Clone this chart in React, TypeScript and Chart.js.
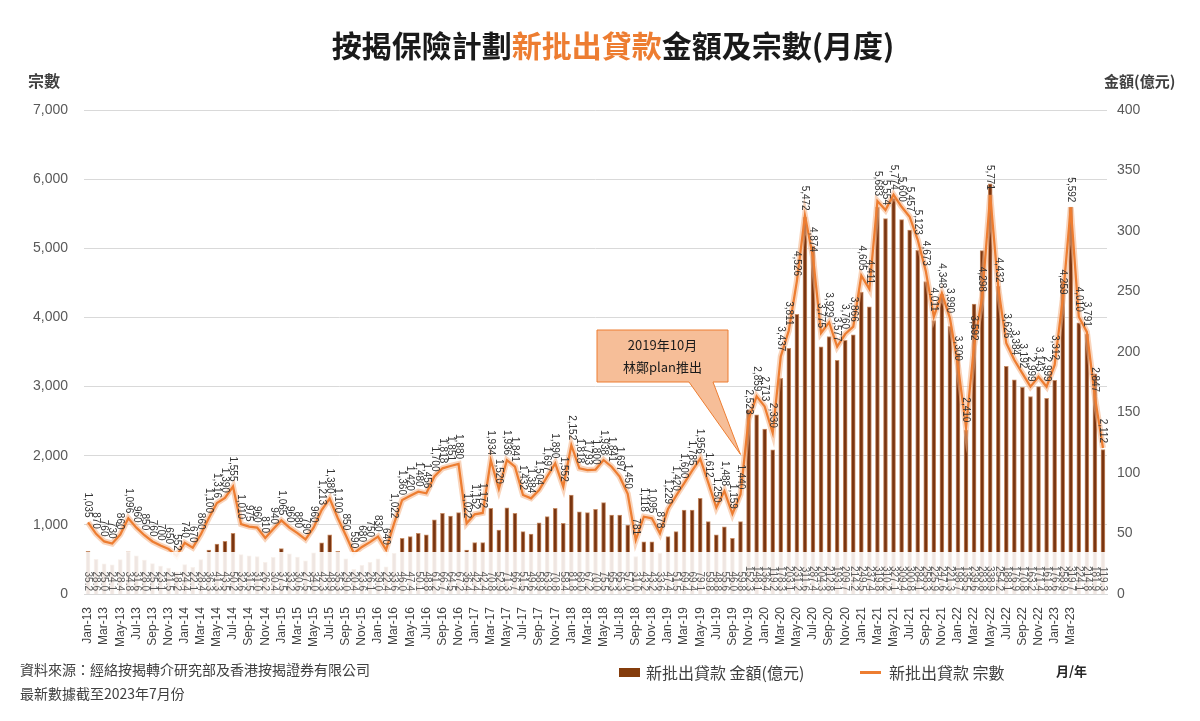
import { useEffect, useRef } from "react";
import { Chart, registerables } from "chart.js";

Chart.register(...registerables);

// Month categories (Jan-13 … Jul-23)
const MONTH_NAMES = ["Jan", "Feb", "Mar", "Apr", "May", "Jun", "Jul", "Aug", "Sep", "Oct", "Nov", "Dec"];
const YEARS = ["13", "14", "15", "16", "17", "18", "19", "20", "21", "22", "23"];

// 新批出貸款 宗數 (monthly count of newly approved loans)
const COUNT_2013 = [1035, 870, 760, 730, 860, 1096, 960, 850, 760, 700, 650, 552];
const COUNT_2014 = [740, 670, 860, 1100, 1316, 1390, 1555, 1010, 975, 960, 810, 940];
const COUNT_2015 = [1065, 960, 880, 790, 960, 1213, 1380, 1100, 850, 590, 680, 750];
const COUNT_2016 = [830, 640, 1022, 1360, 1420, 1480, 1456, 1700, 1818, 1851, 1880, 1022];
const COUNT_2017 = [1152, 1172, 1934, 1520, 1936, 1841, 1432, 1384, 1504, 1697, 1890, 1552];
const COUNT_2018 = [2152, 1818, 1793, 1800, 1938, 1841, 1697, 1450, 781, 1118, 1095, 878];
const COUNT_2019 = [1229, 1420, 1600, 1785, 1956, 1612, 1250, 1488, 1159, 1440, 2523, 2859];
const COUNT_2020 = [2713, 2330, 3437, 3811, 4526, 5472, 4874, 3775, 3929, 3577, 3760, 3866];
const COUNT_2021 = [4605, 4411, 5683, 5554, 5774, 5600, 5457, 5123, 4673, 4011, 4348, 3990];
const COUNT_2022 = [3300, 2410, 3592, 4298, 5771, 4432, 3626, 3384, 3192, 2999, 3143, 2999];
const COUNT_2023 = [3312, 4259, 5592, 4010, 3791, 2847, 2112];

// 新批出貸款 金額 (億元)
const AMOUNT_2013 = [35.2, 28.6, 25.0, 24.1, 28.4, 34.8, 31.6, 28.0, 25.1, 23.1, 21.5, 18.2];
const AMOUNT_2014 = [24.4, 22.1, 28.4, 36.3, 41.3, 43.5, 50.2, 32.6, 31.5, 31.0, 26.2, 30.4];
const AMOUNT_2015 = [37.5, 33.2, 30.6, 27.5, 34.0, 42.3, 48.9, 35.3, 29.0, 20.4, 23.6, 26.1];
const AMOUNT_2016 = [29.0, 22.4, 33.6, 46.0, 47.4, 50.1, 48.8, 61.2, 66.7, 64.5, 67.2, 36.4];
const AMOUNT_2017 = [42.4, 42.4, 70.8, 52.9, 71.3, 66.7, 51.5, 49.6, 58.9, 63.9, 70.8, 58.4];
const AMOUNT_2018 = [81.8, 68.0, 67.2, 70.0, 75.5, 65.3, 65.3, 57.0, 31.0, 43.2, 43.2, 33.6];
const AMOUNT_2019 = [47.4, 51.5, 69.4, 69.4, 79.1, 59.8, 48.8, 55.6, 46.0, 59.8, 152.3, 148.1];
const AMOUNT_2020 = [136.4, 119.2, 178.3, 203.1, 231.2, 311.6, 287.4, 204.3, 212.8, 193.1, 209.7, 214.2];
const AMOUNT_2021 = [249.5, 237.4, 319.8, 310.2, 327.1, 309.4, 300.8, 284.1, 258.3, 225.9, 247.6, 221.3];
const AMOUNT_2022 = [198.7, 135.5, 239.6, 283.8, 338.9, 254.2, 188.1, 176.9, 170.8, 163.2, 171.4, 161.8];
const AMOUNT_2023 = [176.6, 258.9, 319.7, 224.1, 214.8, 181.9, 119.3];

const COUNTS = [
  ...COUNT_2013, ...COUNT_2014, ...COUNT_2015, ...COUNT_2016, ...COUNT_2017, ...COUNT_2018,
  ...COUNT_2019, ...COUNT_2020, ...COUNT_2021, ...COUNT_2022, ...COUNT_2023,
];
const AMOUNTS = [
  ...AMOUNT_2013, ...AMOUNT_2014, ...AMOUNT_2015, ...AMOUNT_2016, ...AMOUNT_2017, ...AMOUNT_2018,
  ...AMOUNT_2019, ...AMOUNT_2020, ...AMOUNT_2021, ...AMOUNT_2022, ...AMOUNT_2023,
];
const MONTH_LABELS = YEARS.flatMap((y) => MONTH_NAMES.map((m) => `${m}-${y}`)).slice(0, COUNTS.length);

// Axis ranges
const COUNT_MAX = 7000;
const COUNT_STEP = 1000;
const AMOUNT_MAX = 400;
const AMOUNT_STEP = 50;
const LAST_TICK_LABEL = "Mar-23";

// Callout
const CALLOUT_MONTH = "Oct-19";
const CALLOUT_LINES = ["2019年10月", "林鄭plan推出"];

const CJK = '"Noto Sans CJK TC", "Noto Sans", sans-serif';
const LATIN = '"Liberation Sans", "DejaVu Sans", Arial, sans-serif';
const ORANGE = "#ED7D31";
const BROWN = "#7A3510";

const valueLabels = {
  id: "valueLabels",
  afterDatasetsDraw(chart: any) {
    const { ctx, chartArea } = chart;
    const barMeta = chart.getDatasetMeta(0);
    const lineMeta = chart.getDatasetMeta(2);
    const bandH = 42;
    ctx.save();
    // white backing for the amount labels at the base of each bar
    ctx.fillStyle = "rgba(255,255,255,0.88)";
    barMeta.data.forEach((el: any) => {
      ctx.fillRect(el.x - 4.5, chartArea.bottom - bandH, 9, bandH);
    });
    ctx.font = `10px ${LATIN}`;
    ctx.fillStyle = "#5a5a5a";
    ctx.textAlign = "right";
    ctx.textBaseline = "middle";
    barMeta.data.forEach((el: any, i: number) => {
      ctx.save();
      ctx.translate(el.x, chartArea.bottom - 3);
      ctx.rotate(Math.PI / 2);
      ctx.fillText(AMOUNTS[i].toFixed(1), 0, 0);
      ctx.restore();
    });
    // count labels above the line
    ctx.font = `10px ${LATIN}`;
    ctx.fillStyle = "#333333";
    lineMeta.data.forEach((pt: any, i: number) => {
      ctx.save();
      ctx.translate(pt.x, pt.y - 5);
      ctx.rotate(Math.PI / 2);
      ctx.fillText(COUNTS[i].toLocaleString("en-US"), 0, 0);
      ctx.restore();
    });
    ctx.restore();
  },
};

const callout = {
  id: "callout",
  afterDraw(chart: any) {
    const { ctx } = chart;
    const xs = chart.scales.x;
    const ys = chart.scales.yCount;
    const idx = MONTH_LABELS.indexOf(CALLOUT_MONTH);
    const tipX = xs.getPixelForValue(idx);
    const tipY = ys.getPixelForValue(COUNTS[idx]) - 40;
    const bx = 597, by = 330, bw = 131, bh = 52;
    ctx.save();
    ctx.fillStyle = "#F6BE98";
    ctx.strokeStyle = ORANGE;
    ctx.lineWidth = 1;
    ctx.beginPath();
    ctx.moveTo(bx, by);
    ctx.lineTo(bx + bw, by);
    ctx.lineTo(bx + bw, by + bh);
    ctx.lineTo(bx + 116, by + bh);
    ctx.lineTo(tipX, tipY);
    ctx.lineTo(bx + 92, by + bh);
    ctx.lineTo(bx, by + bh);
    ctx.closePath();
    ctx.fill();
    ctx.stroke();
    ctx.fillStyle = "#1a1a1a";
    ctx.font = `13px ${CJK}`;
    ctx.textAlign = "center";
    ctx.textBaseline = "middle";
    ctx.fillText(CALLOUT_LINES[0], bx + bw / 2, by + 15);
    ctx.fillText(CALLOUT_LINES[1], bx + bw / 2, by + 37);
    ctx.restore();
  },
};

export default function App() {
  const canvasRef = useRef<HTMLCanvasElement>(null);

  useEffect(() => {
    const canvas = canvasRef.current;
    if (!canvas) return;
    const lastIdx = MONTH_LABELS.indexOf(LAST_TICK_LABEL);
    const chart = new Chart(canvas, {
      type: "bar",
      data: {
        labels: MONTH_LABELS,
        datasets: [
          {
            type: "bar",
            label: "新批出貸款 金額(億元)",
            data: AMOUNTS,
            yAxisID: "yAmount",
            backgroundColor: BROWN,
            borderColor: "rgba(196,136,96,0.95)",
            borderWidth: 1,
            borderSkipped: "bottom",
            barThickness: 4,
            order: 3,
          } as any,
          {
            type: "line",
            label: "halo",
            data: COUNTS,
            yAxisID: "yCount",
            borderColor: "rgba(244,177,131,0.55)",
            borderWidth: 6,
            pointRadius: 0,
            tension: 0,
            order: 2,
          } as any,
          {
            type: "line",
            label: "新批出貸款 宗數",
            data: COUNTS,
            yAxisID: "yCount",
            borderColor: ORANGE,
            borderWidth: 2.25,
            pointRadius: 0,
            tension: 0,
            order: 1,
          } as any,
        ],
      },
      options: {
        responsive: false,
        animation: false,
        devicePixelRatio: 1,
        layout: { padding: { top: 110, left: 0, right: 0, bottom: 0 } },
        plugins: {
          legend: { display: false },
          tooltip: { enabled: false },
          title: { display: false },
        },
        scales: {
          x: {
            offset: true,
            grid: { display: false },
            border: { display: true, color: "#D9D9D9" },
            ticks: {
              autoSkip: false,
              minRotation: 90,
              maxRotation: 90,
              padding: 5,
              color: "#404040",
              font: { family: LATIN, size: 12 },
              callback: (_v: any, i: number) => (i % 2 === 0 && i <= lastIdx ? MONTH_LABELS[i] : ""),
            },
            afterFit: (s: any) => {
              s.height = 127;
            },
          },
          yCount: {
            position: "left",
            min: 0,
            max: COUNT_MAX,
            grid: { color: "#D9D9D9", drawTicks: false },
            border: { display: false },
            ticks: {
              stepSize: COUNT_STEP,
              padding: 16,
              color: "#595959",
              font: { family: LATIN, size: 14 },
              callback: (v: any) => Number(v).toLocaleString("en-US"),
            },
            afterFit: (s: any) => {
              s.width = 84;
            },
          },
          yAmount: {
            position: "right",
            min: 0,
            max: AMOUNT_MAX,
            grid: { display: false, drawTicks: false },
            border: { display: false },
            ticks: {
              stepSize: AMOUNT_STEP,
              padding: 10,
              color: "#595959",
              font: { family: LATIN, size: 14 },
            },
            afterFit: (s: any) => {
              s.width = 93;
            },
          },
        },
      } as any,
      plugins: [valueLabels, callout],
    });
    return () => chart.destroy();
  }, []);

  const abs = (extra: React.CSSProperties): React.CSSProperties => ({
    position: "absolute",
    whiteSpace: "nowrap",
    lineHeight: 1,
    ...extra,
  });

  return (
    <div style={{ position: "absolute", left: 0, top: 0, width: 1200, height: 721, background: "#fff", fontFamily: CJK, color: "#262626" }}>
      <canvas ref={canvasRef} width={1200} height={721} style={{ position: "absolute", left: 0, top: 0, width: 1200, height: 721 }} />
      <div style={abs({ left: 0, width: 1226, top: 29, textAlign: "center", fontSize: 30, fontWeight: 700, color: "#1a1a1a" })}>
        按揭保險計劃<span style={{ color: ORANGE }}>新批出貸款</span>金額及宗數(月度)
      </div>
      <div style={abs({ left: 28, top: 72, fontSize: 16, fontWeight: 700, color: "#404040" })}>宗數</div>
      <div style={abs({ left: 1104, top: 73, fontSize: 15, fontWeight: 700, color: "#404040" })}>金額(億元)</div>
      <div style={abs({ left: 20, top: 662, fontSize: 14, color: "#404040" })}>資料來源：經絡按揭轉介研究部及香港按揭證券有限公司</div>
      <div style={abs({ left: 20, top: 686, fontSize: 14, color: "#404040" })}>最新數據截至2023年7月份</div>
      <div style={abs({ left: 619, top: 668, width: 21, height: 9, background: "#843C0C" })} />
      <div style={abs({ left: 646, top: 664, fontSize: 16, color: "#404040" })}>新批出貸款 金額(億元)</div>
      <div style={abs({ left: 860, top: 671, width: 21, height: 3, background: ORANGE })} />
      <div style={abs({ left: 889, top: 664, fontSize: 16, color: "#404040" })}>新批出貸款 宗數</div>
      <div style={abs({ left: 1056, top: 664, fontSize: 13, fontWeight: 700, color: "#262626" })}>月/年</div>
    </div>
  );
}
